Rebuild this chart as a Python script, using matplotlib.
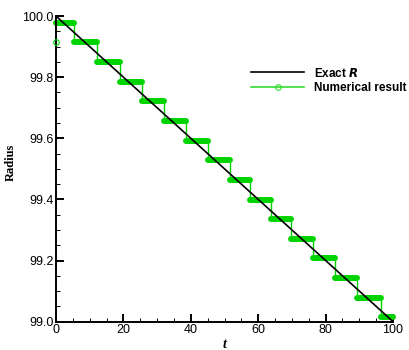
import matplotlib.pyplot as plt
from matplotlib.lines import Line2D
from matplotlib.ticker import MultipleLocator

# Exact solution R(t) (linear)
exact_t = [0, 100]
exact_r = [100.0, 99.0]

# Numerical result: plateau levels and the times where R drops to the next level
levels = [99.978, 99.915, 99.850, 99.785, 99.721, 99.657, 99.592, 99.528,
          99.464, 99.399, 99.335, 99.271, 99.207, 99.142, 99.078, 99.014]
drops = [5.4, 12.3, 18.9, 25.4, 32.1, 38.5, 45.1, 51.5,
         57.7, 63.8, 69.8, 76.2, 82.8, 89.4, 96.4]
first_t, first_r = 0.0, 99.914  # isolated first sample

green = '#00d400'

fig = plt.figure(figsize=(4.09, 3.5), dpi=100)
ax = fig.add_axes([0.137, 0.081, 0.824, 0.873])

starts = [0.0] + drops
ends = drops + [100.0]

# plateaus (dense markers in the original look like thick bars)
ax.hlines(levels, starts, ends, colors=green, linewidth=4.3,
          capstyle='round', zorder=2, clip_on=False)
# thin verticals at each drop
ax.vlines(drops, levels[1:], levels[:-1], colors=green, linewidth=1.0, zorder=2)
ax.plot([first_t], [first_r], 'o', mfc='none', mec=green, ms=4, mew=0.8,
        zorder=4, clip_on=False)

ax.plot(exact_t, exact_r, color='black', linewidth=1.2, zorder=3)

ax.set_xlim(0, 100)
ax.set_ylim(99.0, 100.0)
ax.spines['top'].set_visible(False)
ax.spines['right'].set_visible(False)
for s in ['left', 'bottom']:
    ax.spines[s].set_linewidth(1.4)
ax.xaxis.set_major_locator(MultipleLocator(20))
ax.xaxis.set_minor_locator(MultipleLocator(5))
ax.yaxis.set_major_locator(MultipleLocator(0.2))
ax.yaxis.set_minor_locator(MultipleLocator(0.05))
ax.yaxis.set_major_formatter(plt.FormatStrFormatter('%.1f'))
ax.tick_params(which='major', direction='in', length=5.5, width=1.4,
               labelsize=9, pad=2)
ax.tick_params(which='minor', direction='in', length=2.8, width=0.7)
for lbl in ax.get_xticklabels() + ax.get_yticklabels():
    lbl.set_family('Liberation Sans')

ax.set_ylabel('Radius', family='Liberation Serif', fontweight='bold',
              fontsize=9)
ax.yaxis.set_label_coords(-0.115, 0.52)
ax.set_xlabel('t', family='Liberation Serif',
              fontweight='bold', style='italic', fontsize=10, labelpad=1)

handles = [Line2D([], [], color='black', linewidth=1.2),
           Line2D([], [], color='#33dd33', linewidth=1.2, marker='o',
                  mfc='none', mec='#33dd33', ms=4, mew=0.8)]
leg = ax.legend(handles, ['Exact $\\boldsymbol{R}$', 'Numerical result'],
                loc='upper left', bbox_to_anchor=(0.579, 0.835),
                frameon=False, handlelength=4.5, handletextpad=0.8,
                labelspacing=0.25, borderaxespad=0, borderpad=0,
                prop={'family': 'Liberation Sans', 'weight': 'bold', 'size': 8.5})

fig.savefig('out.png', dpi=100)
